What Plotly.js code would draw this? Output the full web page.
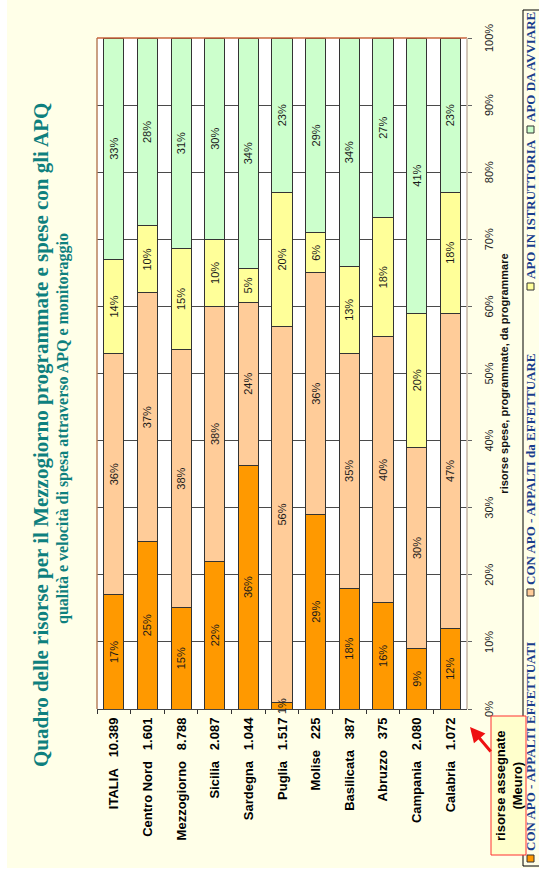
<!DOCTYPE html>
<html>
<head>
<meta charset="utf-8">
<script src="https://cdn.plot.ly/plotly-3.0.1.min.js"></script>
<style>
  html, body { margin:0; padding:0; background:#ffffff; overflow:hidden; width:539px; height:871px; }
  #wrap { position:absolute; left:0; top:0; width:871px; height:539px; background:#ffffff;
          transform-origin:0 0; transform: translate(0px, 871px) rotate(-90deg); }
  #chart { position:absolute; left:3px; top:7px; width:868px; height:532px; }
</style>
</head>
<body>
<div id="wrap"><div id="chart"></div></div>
<script>
// ---------- DATA ----------
const regions = ["ITALIA", "Centro Nord", "Mezzogiorno", "Sicilia", "Sardegna", "Puglia",
                 "Molise", "Basilicata", "Abruzzo", "Campania", "Calabria"];
const assigned = ["10.389", "1.601", "8.788", "2.087", "1.044", "1.517",
                  "225", "387", "375", "2.080", "1.072"];
const seriesNames = ["CON APO - APPALTI EFFETTUATI", "CON APO - APPALTI da EFFETTUARE",
                     "APO IN ISTRUTTORIA", "APO DA AVVIARE"];
const appaltiEffettuati = [17, 25, 15, 22, 36, 1, 29, 18, 16, 9, 12];
const appaltiDaEffettuare = [36, 37, 38, 38, 24, 56, 36, 35, 40, 30, 47];
const apoIstruttoria = [14, 10, 15, 10, 5, 20, 6, 13, 18, 20, 18];
const apoDaAvviare = [33, 28, 31, 30, 34, 23, 29, 34, 27, 41, 23];
const pctTicks = [0, 10, 20, 30, 40, 50, 60, 70, 80, 90, 100];

const titleText = "Quadro delle risorse per il Mezzogiorno programmate e spese con gli APQ";
const subtitleText = "qualità e velocità di spesa attraverso APQ e monitoraggio";
const xTitleText = "risorse spese, programmate, da programmare";
const boxText = "risorse assegnate<br>(Meuro)";

// ---------- STYLE ----------
const colors = ["#FF9900", "#FFCC99", "#FFFF99", "#CCFFCC"];
const series = [appaltiEffettuati, appaltiDaEffettuare, apoIstruttoria, apoDaAvviare];
const ARIAL = "'Liberation Sans', Arial, sans-serif";
const TIMES = "'Liberation Serif', 'Times New Roman', serif";
const SMALL = 3; // segments too narrow for an inside label

const labels = regions.map((r, i) => r + "\u00A0\u00A0\u00A0" + assigned[i]);
const totals = regions.map((_, i) => series.reduce((s, arr) => s + arr[i], 0));

const traces = series.map((vals, k) => ({
  type: "bar",
  orientation: "h",
  name: seriesNames[k],
  y: labels,
  x: vals,
  text: vals.map(v => v < SMALL ? "" : v + "%"),
  textposition: "inside",
  insidetextanchor: "middle",
  constraintext: "none",
  textangle: 0,
  textfont: { family: ARIAL, size: 11, color: "#1a1a1a" },
  marker: { color: colors[k], line: { color: "#333333", width: 1 } },
  hoverinfo: "skip",
  showlegend: false
}));

// pixel -> paper helpers (coordinates in the unrotated 871x539 frame)
const L = 162, T = 97, W = 671, H = 370;
const fx = x => (x - L) / W;
const fy = y => 1 - (y - T) / H;

const shapes = [];
const annotations = [];

// labels for very narrow segments, placed at the segment's own data position
series.forEach((vals, k) => {
  vals.forEach((v, i) => {
    if (v < SMALL) {
      let cum = 0;
      for (let j = 0; j < k; j++) cum += series[j][i];
      annotations.push({ xref: "x", yref: "y", x: (cum + v / 2) / totals[i] * 100, y: labels[i],
        text: v + "%", showarrow: false, xanchor: "center", yanchor: "middle",
        font: { family: ARIAL, size: 11, color: "#1a1a1a" } });
    }
  });
});

// plot-area border lines
shapes.push({ type: "line", xref: "paper", yref: "paper", x0: 0, x1: 1, y0: 1, y1: 1, line: { color: "#B8805C", width: 1.5 } });
shapes.push({ type: "line", xref: "paper", yref: "paper", x0: 1, x1: 1, y0: 0, y1: 1, line: { color: "#C8643C", width: 1.5 } });
shapes.push({ type: "line", xref: "paper", yref: "paper", x0: 0, x1: 1, y0: 0, y1: 0, line: { color: "#C4B4A4", width: 1.5 } });

// titles
annotations.push({ xref: "paper", yref: "paper", x: fx(436), y: fy(41), text: titleText, showarrow: false,
  xanchor: "center", yanchor: "middle", font: { family: TIMES, size: 21, color: "#0E807E", weight: "bold" } });
annotations.push({ xref: "paper", yref: "paper", x: fx(442), y: fy(63), text: subtitleText, showarrow: false,
  xanchor: "center", yanchor: "middle", font: { family: TIMES, size: 16, color: "#0E807E", weight: "bold" } });

// custom legend
shapes.push({ type: "rect", xref: "paper", yref: "paper", x0: fx(5), x1: fx(861), y0: fy(523), y1: fy(560),
  fillcolor: "rgba(0,0,0,0)", line: { color: "#000000", width: 1 } });
const legX = [9, 275, 581, 738];
seriesNames.forEach((n, k) => {
  shapes.push({ type: "rect", xref: "paper", yref: "paper", x0: fx(legX[k]), x1: fx(legX[k] + 7),
    y0: fy(527), y1: fy(534), fillcolor: colors[k], line: { color: "#333333", width: 1 } });
  annotations.push({ xref: "paper", yref: "paper", x: fx(legX[k] + 9), y: fy(530.5), text: n, showarrow: false,
    xanchor: "left", yanchor: "middle", font: { family: TIMES, size: 13, color: "#1A3E8C", weight: "bold" } });
});

// "risorse assegnate" box (drawn over the legend border)
shapes.push({ type: "rect", xref: "paper", yref: "paper", x0: fx(16), x1: fx(155), y0: fy(491), y1: fy(526),
  fillcolor: "#FFFFCC", line: { color: "#FF3030", width: 1 } });
annotations.push({ xref: "paper", yref: "paper", x: fx(85.5), y: fy(508.5), text: boxText, showarrow: false,
  xanchor: "center", yanchor: "middle", font: { family: ARIAL, size: 13, color: "#000000", weight: "bold" } });
// red arrow
annotations.push({ xref: "paper", yref: "paper", x: fx(144), y: fy(470), text: "", showarrow: true,
  ax: -26, ay: 22, arrowcolor: "#EE1111", arrowwidth: 3, arrowhead: 2, arrowsize: 1 });

const layout = {
  width: 868, height: 532,
  margin: { l: 159, r: 38, t: 90, b: 72, pad: 0 },
  paper_bgcolor: "#FFFFE8",
  plot_bgcolor: "#FFFFFF",
  barmode: "stack",
  barnorm: "percent",
  bargap: 0.4,
  showlegend: false,
  xaxis: {
    range: [0, 100], tickvals: pctTicks, ticktext: pctTicks.map(v => v + "%"),
    showgrid: true, gridcolor: "#4a4a4a", gridwidth: 1, zeroline: false,
    ticks: "outside", ticklen: 4, tickcolor: "#666666", ticklabelstandoff: 8,
    tickfont: { family: ARIAL, size: 11, color: "#222222" },
    showline: false,
    title: { text: xTitleText, standoff: 6, font: { family: ARIAL, size: 11, color: "#111111", weight: "bold" } }
  },
  yaxis: {
    type: "category", autorange: "reversed",
    tickson: "boundaries", ticks: "outside", ticklen: 4, tickcolor: "#333333",
    showline: true, linecolor: "#444444", linewidth: 1, showgrid: false,
    ticklabelstandoff: 5,
    tickfont: { family: ARIAL, size: 13, color: "#000000", weight: "bold" }
  },
  shapes: shapes,
  annotations: annotations
};

Plotly.newPlot("chart", traces, layout, { staticPlot: true, displayModeBar: false });
</script>
</body>
</html>
